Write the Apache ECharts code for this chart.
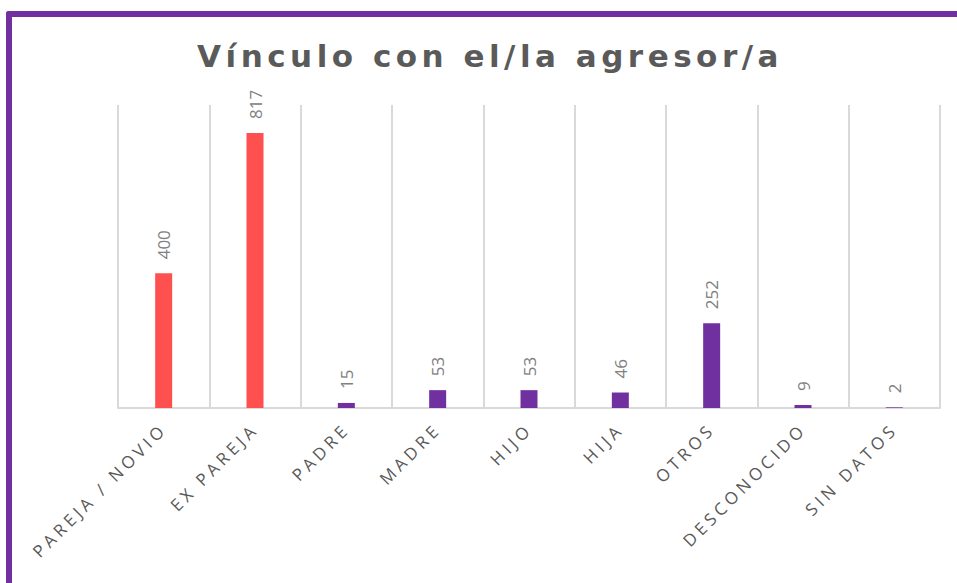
<!DOCTYPE html>
<html>
<head>
<meta charset="utf-8">
<script src="https://cdn.jsdelivr.net/npm/echarts@6/dist/echarts.min.js"></script>
<style>
    body { margin: 0; background: #fff; }
    #main { position: absolute; left: 0; top: 0; width: 957px; height: 583px; }
    #frame {
        position: absolute; left: 6px; top: 11px; width: 1000px; height: 600px;
        border-left: 6px solid #7030A0; border-top: 6px solid #7030A0;
        border-top-left-radius: 3px; pointer-events: none;
    }
    /* spaced lettering like the original title and axis labels */
    #main text[fill="#595959"] { letter-spacing: 4px; }
    #main text[fill="#5a5a5a"] { letter-spacing: 4.5px; }
</style>
</head>
<body>
<div id="main"></div>
<div id="frame"></div>
<script>
var categorias = ['PAREJA / NOVIO', 'EX PAREJA', 'PADRE', 'MADRE', 'HIJO', 'HIJA', 'OTROS', 'DESCONOCIDO', 'SIN DATOS'];
var valores = [400, 817, 15, 53, 53, 46, 252, 9, 2];
var colores = ['#FF5050', '#FF5050', '#7030A0', '#7030A0', '#7030A0', '#7030A0', '#7030A0', '#7030A0', '#7030A0'];

function drawVinculoChart() {
    var myChart = echarts.init(document.getElementById('main'), null, {renderer: 'svg'});
    var option = {
        animation: false,
        title: {
            text: 'Vínculo con el/la agresor/a',
            left: 485,
            textAlign: 'center',
            top: 35,
            textStyle: {
                fontFamily: 'DejaVu Sans',
                fontSize: 31,
                fontWeight: 'bold',
                color: '#5a5a5a'
            }
        },
        grid: {
            left: 118,
            right: 17,
            top: 105,
            bottom: 175
        },
        xAxis: {
            type: 'category',
            data: categorias,
            axisLine: { lineStyle: { color: '#d9d9d9', width: 2 } },
            axisTick: { show: false },
            splitLine: { show: true, lineStyle: { color: '#d9d9d9', width: 2 } },
            axisLabel: {
                rotate: 45,
                interval: 0,
                margin: 18,
                fontFamily: 'Open Sans',
                fontSize: 17,
                color: '#595959'
            }
        },
        yAxis: {
            type: 'value',
            min: 0,
            max: 900,
            axisLine: { show: false },
            axisTick: { show: false },
            axisLabel: { show: false },
            splitLine: { show: false }
        },
        series: [
            {
                name: 'Vínculo',
                type: 'bar',
                barWidth: 17,
                data: valores.map(function (v, i) {
                    return { value: v, itemStyle: { color: colores[i] } };
                }),
                label: {
                    show: true,
                    position: 'top',
                    rotate: 90,
                    align: 'left',
                    verticalAlign: 'middle',
                    distance: 14,
                    fontFamily: 'Open Sans',
                    fontSize: 17,
                    color: '#808080'
                }
            }
        ]
    };
    myChart.setOption(option);
}

drawVinculoChart();
</script>
</body>
</html>
